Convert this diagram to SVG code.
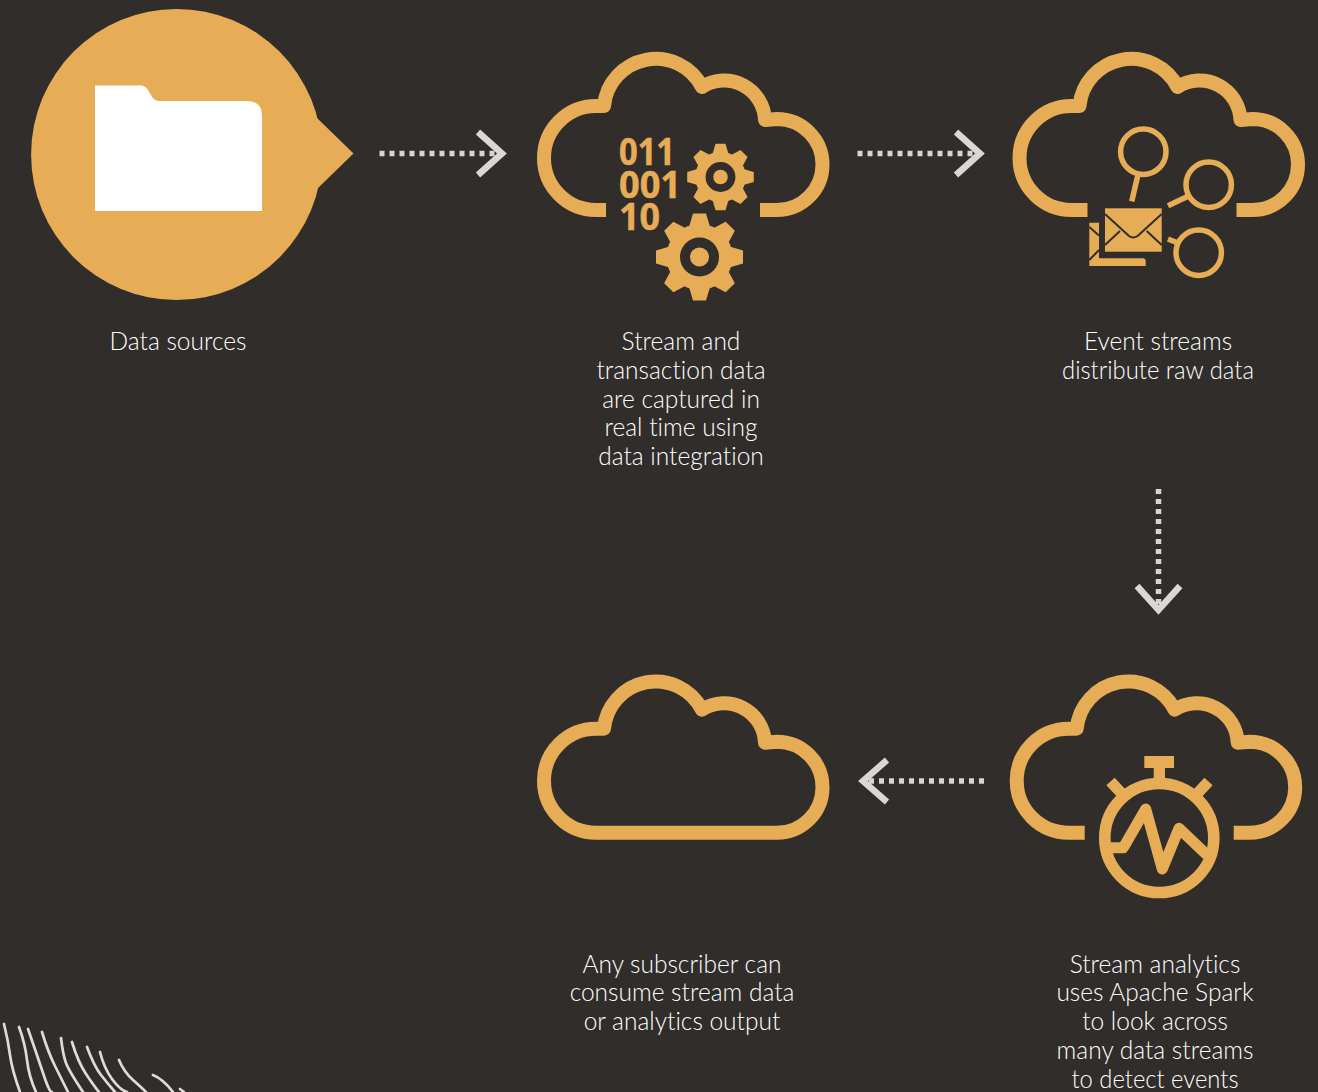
<svg xmlns="http://www.w3.org/2000/svg" width="1318" height="1092" viewBox="0 0 1318 1092">
<style>
.cl{fill:none;stroke:#E7AD56;stroke-width:14;stroke-linejoin:round}
.g{fill:#E7AD56}
.d{fill:#312D2A}
.o{fill:none;stroke:#E7AD56;stroke-width:5.5}
.k{fill:none;stroke:#312D2A;stroke-width:2;stroke-linejoin:round}
.lb{font-family:"Lato","Open Sans",sans-serif;font-weight:300;font-size:24.5px;fill:#fff;text-anchor:middle;font-variant-ligatures:none}
.n{font-family:"Open Sans",sans-serif;font-weight:700;font-size:38px;fill:#E7AD56;stroke:#E7AD56;stroke-width:.5}
.dots{fill:none;stroke:#D6D5D1;stroke-width:5.5;stroke-dasharray:5 5}
.chev{fill:none;stroke:#D9D8D4;stroke-width:6.5;stroke-miterlimit:10}
.tx{fill:none;stroke:#DCDCD8;stroke-width:2.7;stroke-linejoin:round;stroke-linecap:round}
</style>
<defs>
<polygon id="tooth" points="-10.5,-30 -6.5,-43.5 6.5,-43.5 10.5,-30"/>
<g id="gear">
<circle class="g" r="33"/>
<use href="#tooth" class="g"/>
<use href="#tooth" class="g" transform="rotate(45)"/>
<use href="#tooth" class="g" transform="rotate(90)"/>
<use href="#tooth" class="g" transform="rotate(135)"/>
<use href="#tooth" class="g" transform="rotate(180)"/>
<use href="#tooth" class="g" transform="rotate(225)"/>
<use href="#tooth" class="g" transform="rotate(270)"/>
<use href="#tooth" class="g" transform="rotate(315)"/>
<circle class="d" r="19.5"/>
<circle class="g" r="9.5"/>
</g>
</defs>
<rect width="1318" height="1092" fill="#312D2A"/>
<g id="texture">
<path class="tx" d="M4 1024Q8 1040 10 1055T20 1092"/>
<path class="tx" d="M19 1027Q25 1043 27 1060T36 1092"/>
<path class="tx" d="M28 1029Q36 1052 43 1073T52 1092"/>
<path class="tx" d="M42 1032Q48 1052 55 1066T68 1092"/>
<path class="tx" d="M61 1038Q63 1055 66 1063T83 1092"/>
<path class="tx" d="M72 1042Q78 1062 86 1074T99 1092"/>
<path class="tx" d="M87 1047Q94 1066 101 1075T115 1092"/>
<path class="tx" d="M100 1052Q104 1068 112 1079T127 1092"/>
<path class="tx" d="M119 1060Q124 1072 133 1080T146 1092"/>
<path class="tx" d="M153 1075Q163 1079 173 1092"/>
<path class="tx" d="M180 1089L184 1092"/>
</g>
<g id="connectors">
<path class="dots" d="M379.500 153.500H497"/><path class="chev" d="M478 132L502 153.500L478 175"/>
<path class="dots" d="M857.500 153.500H975"/><path class="chev" d="M956 132L980 153.500L956 175"/>
<path class="dots" d="M1158.500 489V604"/><path class="chev" d="M1137 586L1158.500 610L1180 586"/>
<path class="dots" d="M984 781H868"/><path class="chev" d="M887 760L863 781L887 802"/>
</g>
<g id="node-sources">
<circle class="g" cx="176.600" cy="154.500" r="145.500"/>
<polygon class="g" points="317,118 353.500,153.500 317,189"/>
<path fill="#fff" d="M95 85.500H141C150 85.500 150 101 159 101H247Q262 101 262 116V211H95Z"/>
<text class="lb" x="178" y="350">Data sources</text>
</g>
<g id="node-capture">
<path class="cl" d="M760 210H777A45.500 45.500 0 0 0 777 119L765 120A41 41 0 0 0 702 87A52 52 0 0 0 604 106H596A52 52 0 0 0 596 210H606"/>
<text class="n"><tspan x="619" y="165" textLength="56" lengthAdjust="spacingAndGlyphs">011</tspan><tspan x="619" y="197.500" textLength="62" lengthAdjust="spacingAndGlyphs">001</tspan><tspan x="619" y="229.500" textLength="41" lengthAdjust="spacingAndGlyphs">10</tspan></text>
<use href="#gear" transform="translate(720.500 177) scale(.765)"/>
<use href="#gear" transform="translate(699.500 257)"/>
<text class="lb" x="681" y="350">Stream and</text>
<text class="lb" x="681" y="379">transaction data</text>
<text class="lb" x="681" y="407.500">are captured in</text>
<text class="lb" x="681" y="436">real time using</text>
<text class="lb" x="681" y="465">data integration</text>
</g>
<g id="node-events">
<path class="cl" transform="translate(475.500 0)" d="M761 210H777A45.500 45.500 0 0 0 777 119L765 120A41 41 0 0 0 702 87A52 52 0 0 0 604 106H596A52 52 0 0 0 596 210H612"/>
<circle class="o" cx="1143.300" cy="151.700" r="22.700"/>
<circle class="o" cx="1208.700" cy="184.700" r="22.700"/>
<circle class="o" cx="1198.700" cy="252.700" r="22.700"/>
<path class="o" d="M1137.700 176L1131.700 201.300M1187 196.700L1168 205.700M1176 242.300L1168 239"/>
<rect class="g" x="1105" y="208.300" width="56.700" height="43.400"/>
<path class="k" d="M1105 214L1129 236Q1133.300 239 1137.600 236L1161.700 214M1105 245L1120 231M1161.700 245L1146.700 231"/>
<polygon class="g" points="1089.300,222.700 1099,222.700 1099,258.300 1144,258.300 1145.700,260 1145.700,266 1089.300,266"/>
<path class="k" d="M1089.300 227L1099 235.500M1089.300 260L1099 250"/>
<text class="lb" x="1158" y="350">Event streams</text>
<text class="lb" x="1158" y="379" textLength="192" lengthAdjust="spacingAndGlyphs">distribute raw data</text>
</g>
<g id="node-analytics">
<path class="cl" transform="translate(472.700 622.700)" d="M761 210H777A45.500 45.500 0 0 0 777 119L765 120A41 41 0 0 0 702 87A52 52 0 0 0 604 106H596A52 52 0 0 0 596 210H612"/>
<circle cx="1159.300" cy="838" r="54.500" fill="none" stroke="#E7AD56" stroke-width="11.600"/>
<rect class="g" x="1144.300" y="756" width="29.700" height="12"/>
<rect class="g" x="1153.700" y="768" width="11.300" height="13"/>
<path fill="none" stroke="#E7AD56" stroke-width="11.300" d="M1124 796L1110.500 781.500M1195 796L1208.500 781.500"/>
<path fill="none" stroke="#E7AD56" stroke-width="11" stroke-linejoin="round" d="M1110 847.700H1123.300L1145.700 809L1162.300 869L1179 828.300L1207 855"/>
<text class="lb" x="1155" y="973">Stream analytics</text>
<text class="lb" x="1155" y="1001">uses Apache Spark</text>
<text class="lb" x="1155" y="1030">to look across</text>
<text class="lb" x="1155" y="1059">many data streams</text>
<text class="lb" x="1155" y="1088" textLength="167" lengthAdjust="spacingAndGlyphs">to detect events</text>
</g>
<g id="node-subscriber">
<path class="cl" transform="translate(0 622.700)" d="M606 210H777A45.500 45.500 0 0 0 777 119L765 120A41 41 0 0 0 702 87A52 52 0 0 0 604 106H596A52 52 0 0 0 596 210Z"/>
<text class="lb" x="682" y="973">Any subscriber can</text>
<text class="lb" x="682" y="1001">consume stream data</text>
<text class="lb" x="682" y="1030">or analytics output</text>
</g>
</svg>
